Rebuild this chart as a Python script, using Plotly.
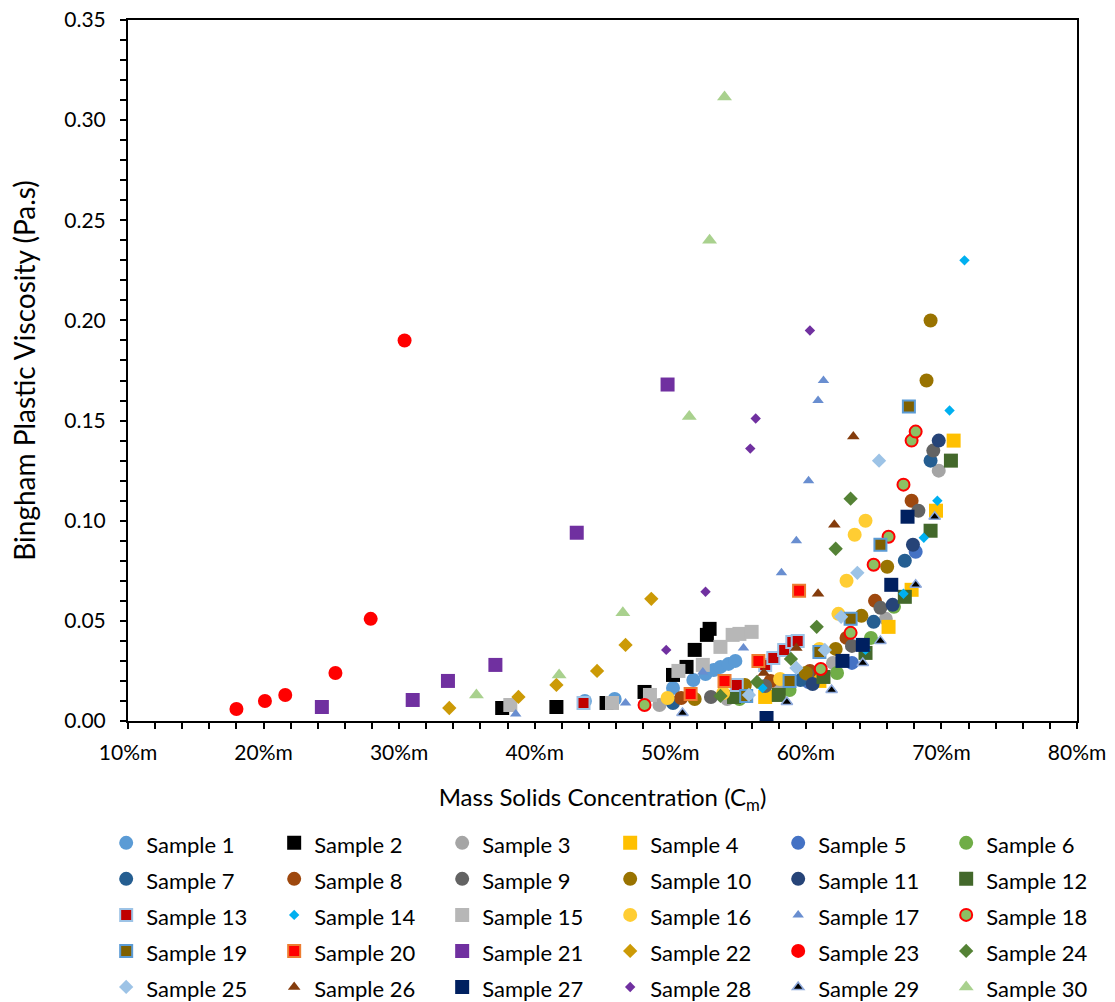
import plotly.graph_objects as go

# Mass solids concentration (%m) and Bingham plastic viscosity (Pa.s) per sample
cm_01 = [43.7, 45.9, 50.2, 51.7, 52.6, 53.2, 53.7, 54.3, 54.8]
pv_01 = [0.010, 0.011, 0.0165, 0.0205, 0.0235, 0.0255, 0.027, 0.0285, 0.030]
cm_02 = [37.6, 41.6, 45.3, 48.1, 50.2, 51.2, 51.8, 52.7, 52.9]
pv_02 = [0.0065, 0.007, 0.009, 0.0145, 0.023, 0.027, 0.0355, 0.043, 0.046]
cm_03 = [49.2, 54.2, 58.0, 62.0, 65.9, 69.8]
pv_03 = [0.008, 0.011, 0.015, 0.029, 0.051, 0.125]
cm_04 = [57.0, 61.0, 66.1, 67.8, 69.6, 70.9]
pv_04 = [0.012, 0.020, 0.047, 0.0655, 0.105, 0.140]
cm_05 = [60.2, 63.4, 68.1]
pv_05 = [0.0195, 0.029, 0.0845]
cm_06 = [55.1, 58.8, 62.3, 64.8, 66.5]
pv_06 = [0.011, 0.0155, 0.024, 0.0415, 0.057]
cm_07 = [50.2, 59.6, 65.0, 67.3, 69.2]
pv_07 = [0.009, 0.0205, 0.0495, 0.080, 0.130]
cm_08 = [50.8, 57.4, 60.3, 63.0, 65.1, 67.8]
pv_08 = [0.0115, 0.020, 0.025, 0.0415, 0.060, 0.110]
cm_09 = [53.0, 57.0, 60.1, 63.4, 65.5, 68.3, 69.4]
pv_09 = [0.012, 0.0175, 0.0235, 0.0375, 0.0565, 0.105, 0.135]
cm_10 = [51.8, 55.5, 60.0, 62.2, 64.1, 66.0, 68.9, 69.2]
pv_10 = [0.011, 0.018, 0.024, 0.036, 0.0525, 0.077, 0.170, 0.200]
cm_11 = [60.5, 66.4, 67.9, 69.8]
pv_11 = [0.0185, 0.058, 0.088, 0.140]
cm_12 = [54.7, 58.0, 61.3, 64.4, 67.3, 69.2, 70.7]
pv_12 = [0.012, 0.013, 0.022, 0.034, 0.062, 0.095, 0.130]
cm_13 = [43.6, 54.9, 57.0, 57.6, 58.4, 59.0, 59.4]
pv_13 = [0.009, 0.018, 0.028, 0.0315, 0.0355, 0.0395, 0.040]
cm_14 = [56.8, 64.4, 67.2, 68.7, 69.7, 70.6, 71.7]
pv_14 = [0.0165, 0.0355, 0.0635, 0.0915, 0.110, 0.155, 0.230]
cm_15 = [38.2, 45.7, 48.5, 50.6, 52.4, 53.7, 54.6, 55.1, 56.0]
pv_15 = [0.008, 0.009, 0.013, 0.025, 0.028, 0.037, 0.043, 0.0435, 0.0445]
cm_16 = [49.8, 53.9, 58.1, 61.0, 62.4, 63.0, 63.6, 64.4]
pv_16 = [0.0115, 0.014, 0.021, 0.036, 0.0535, 0.070, 0.093, 0.100]
cm_17 = [38.6, 46.7, 52.4, 55.4, 58.2, 59.3, 60.2, 60.9, 61.3]
pv_17 = [0.0035, 0.009, 0.0245, 0.0365, 0.074, 0.090, 0.120, 0.160, 0.170]
cm_18 = [48.1, 61.1, 63.3, 65.0, 66.1, 67.2, 67.8, 68.1]
pv_18 = [0.008, 0.026, 0.044, 0.078, 0.092, 0.118, 0.140, 0.1445]
cm_19 = [55.6, 58.8, 61.0, 63.3, 65.5, 67.6]
pv_19 = [0.0125, 0.020, 0.0345, 0.051, 0.088, 0.157]
cm_20 = [51.5, 54.0, 56.5, 59.5]
pv_20 = [0.0135, 0.020, 0.030, 0.065]
cm_21 = [24.3, 31.0, 33.6, 37.1, 43.1, 49.8]
pv_21 = [0.007, 0.0105, 0.020, 0.028, 0.094, 0.168]
cm_22 = [33.7, 38.8, 41.6, 44.6, 46.7, 48.6]
pv_22 = [0.0065, 0.012, 0.018, 0.025, 0.038, 0.061]
cm_23 = [18.0, 20.1, 21.6, 25.3, 27.9, 30.4]
pv_23 = [0.006, 0.010, 0.013, 0.024, 0.051, 0.190]
cm_24 = [53.7, 56.4, 58.9, 60.8, 62.2, 63.3]
pv_24 = [0.0125, 0.0195, 0.031, 0.047, 0.086, 0.111]
cm_25 = [55.8, 59.3, 61.4, 62.6, 63.8, 65.4]
pv_25 = [0.013, 0.0265, 0.0355, 0.052, 0.074, 0.130]
cm_26 = [56.9, 59.3, 60.9, 62.1, 63.5]
pv_26 = [0.024, 0.0365, 0.0635, 0.098, 0.142]
cm_27 = [57.1, 62.7, 64.2, 66.3, 67.5]
pv_27 = [0.0015, 0.030, 0.038, 0.068, 0.102]
cm_28 = [49.7, 52.6, 55.9, 56.3, 60.3]
pv_28 = [0.0355, 0.0645, 0.136, 0.151, 0.195]
cm_29 = [50.9, 58.6, 61.9, 64.2, 65.5, 68.1, 69.5]
pv_29 = [0.004, 0.0095, 0.0155, 0.029, 0.040, 0.068, 0.102]
cm_30 = [35.7, 41.8, 46.5, 51.4, 52.9, 54.0]
pv_30 = [0.013, 0.023, 0.054, 0.152, 0.240, 0.3115]

sample_names = [f"Sample {i}" for i in range(1, 31)]
x_tick_vals = [10, 20, 30, 40, 50, 60, 70, 80]
x_tick_text = ["10%m", "20%m", "30%m", "40%m", "50%m", "60%m", "70%m", "80%m"]

concentrations = [cm_01, cm_02, cm_03, cm_04, cm_05, cm_06, cm_07, cm_08, cm_09, cm_10,
                  cm_11, cm_12, cm_13, cm_14, cm_15, cm_16, cm_17, cm_18, cm_19, cm_20,
                  cm_21, cm_22, cm_23, cm_24, cm_25, cm_26, cm_27, cm_28, cm_29, cm_30]
viscosities = [pv_01, pv_02, pv_03, pv_04, pv_05, pv_06, pv_07, pv_08, pv_09, pv_10,
               pv_11, pv_12, pv_13, pv_14, pv_15, pv_16, pv_17, pv_18, pv_19, pv_20,
               pv_21, pv_22, pv_23, pv_24, pv_25, pv_26, pv_27, pv_28, pv_29, pv_30]

# marker style per sample: (symbol, size, fill, outline colour, outline width)
marker_styles = [
    ("circle", 14, "#5B9BD5", None, 0),
    ("square", 14, "#000000", None, 0),
    ("circle", 14, "#A5A5A5", None, 0),
    ("square", 14, "#FFC000", None, 0),
    ("circle", 14, "#4472C4", None, 0),
    ("circle", 14, "#70AD47", None, 0),
    ("circle", 14, "#255E91", None, 0),
    ("circle", 14, "#9E480E", None, 0),
    ("circle", 14, "#636363", None, 0),
    ("circle", 14, "#997300", None, 0),
    ("circle", 14, "#264478", None, 0),
    ("square", 14, "#43682B", None, 0),
    ("square", 12, "#C00000", "#9DC3E6", 2),
    ("diamond", 8, "#00B0F0", None, 0),
    ("square", 14, "#B7B7B7", None, 0),
    ("circle", 14, "#FFCD33", None, 0),
    ("triangle-up", 10, "#698ED0", None, 0),
    ("circle", 12, "#8CC063", "#FF0000", 2),
    ("square", 12, "#7F6000", "#5B9BD5", 2),
    ("square", 12, "#FF0000", "#ED7D31", 2),
    ("square", 14, "#7030A0", None, 0),
    ("diamond", 11, "#CC9A06", None, 0),
    ("circle", 14, "#FF0000", None, 0),
    ("diamond", 11, "#548235", None, 0),
    ("diamond", 11, "#9DC3E6", None, 0),
    ("triangle-up", 11, "#843C0C", None, 0),
    ("square", 14, "#002060", None, 0),
    ("diamond", 8, "#7030A0", None, 0),
    ("triangle-up", 10, "#000000", "#8FAADC", 1.5),
    ("triangle-up", 13, "#A9D18E", None, 0),
]

FONT = "Lato"

fig = go.Figure()
for name, xs, ys, (sym, size, fill, edge, ew) in zip(sample_names, concentrations,
                                                      viscosities, marker_styles):
    fig.add_trace(go.Scatter(
        x=xs, y=ys, mode="markers",
        name=f'<span style="font-size:22px">{name}</span>',
        marker=dict(symbol=sym, size=size, color=fill,
                    line=dict(color=edge if edge else fill, width=ew)),
    ))

axis_common = dict(
    showline=True, linecolor="black", linewidth=2, mirror=True,
    showgrid=False, zeroline=False,
    ticks="outside", ticklen=6, tickwidth=2, tickcolor="black",
    tickfont=dict(family=FONT, size=21, color="black"),
)

fig.update_xaxes(
    range=[10, 80], tickvals=x_tick_vals, ticktext=x_tick_text,
    minor=dict(dtick=2, ticks="outside", ticklen=6, tickwidth=2, tickcolor="black"),
    title=dict(text="Mass Solids Concentration (C<sub>m</sub>)",
               font=dict(family=FONT, size=24, color="black"), standoff=26),
    ticklabelstandoff=6,
    **axis_common,
)
fig.update_yaxes(
    range=[0, 0.35], dtick=0.05, tickformat=".2f",
    minor=dict(dtick=0.01, ticks="outside", ticklen=6, tickwidth=2, tickcolor="black"),
    title=dict(text="Bingham Plastic Viscosity (Pa.s)",
               font=dict(family=FONT, size=28, color="black"), standoff=20),
    ticklabelstandoff=10,
    **axis_common,
)

fig.update_layout(
    width=1115, height=1002,
    margin=dict(l=128, r=38, t=20, b=281, autoexpand=False),
    paper_bgcolor="white", plot_bgcolor="white",
    font=dict(family=FONT, color="black"),
    showlegend=True,
    legend=dict(
        orientation="h", x=-0.023, xanchor="left", y=-0.141, yanchor="top",
        entrywidth=123, entrywidthmode="pixels",
        font=dict(family=FONT, size=25.4, color="black"),
        bgcolor="rgba(0,0,0,0)", borderwidth=0,
    ),
)

fig.write_html("out.html")
